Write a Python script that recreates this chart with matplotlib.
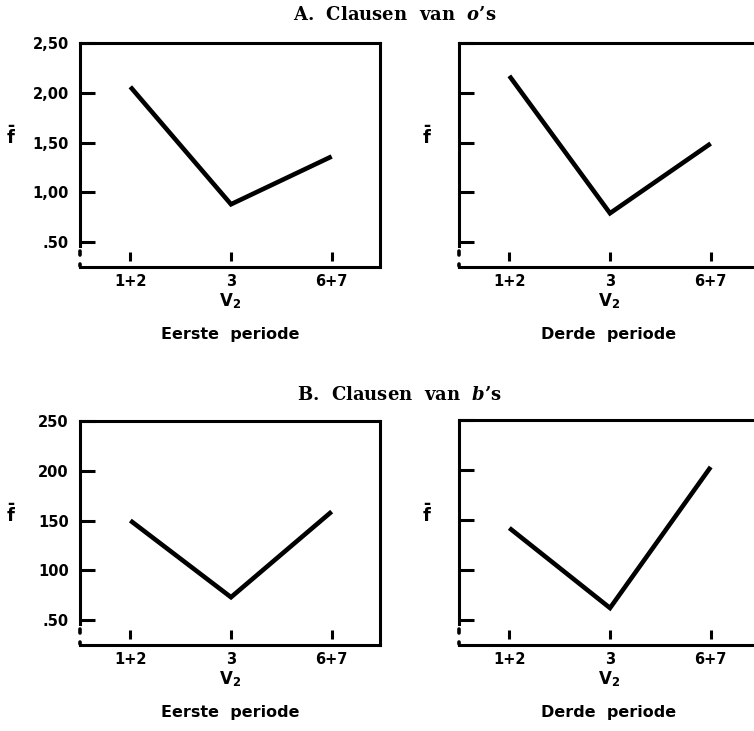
import matplotlib
matplotlib.use("Agg")
import matplotlib.pyplot as plt
import matplotlib.transforms as mtransforms

plt.rcParams['font.family'] = ['DejaVu Sans']
plt.rcParams['mathtext.fontset'] = 'custom'
plt.rcParams['mathtext.it'] = 'DejaVu Serif:italic:bold'
plt.rcParams['mathtext.bf'] = 'DejaVu Sans:bold'
plt.rcParams['mathtext.rm'] = 'DejaVu Sans:bold'

# ---- data ----
categories = ["1+2", "3", "6+7"]
a_eerste = [2.06, 0.88, 1.36]
a_derde = [2.17, 0.79, 1.49]
b_eerste = [1.50, 0.73, 1.59]
b_derde = [1.42, 0.62, 2.03]
yticks = [0.5, 1.0, 1.5, 2.0, 2.5]
a_ylabels = [".50", "1,00", "1,50", "2,00", "2,50"]
b_ylabels = [".50", "100", "150", "200", "250"]
title_a = r"A.  Clausen  van  $o$’s"
title_b = r"B.  Clausen  van  $b$’s"
period_left = "Eerste  periode"
period_right = "Derde  periode"

W, H = 754, 731
fig = plt.figure(figsize=(W / 100, H / 100), dpi=100)


def px_axes(x0, x1, top, bottom):
    return fig.add_axes([x0 / W, (H - bottom) / H, (x1 - x0) / W, (bottom - top) / H])


def panel(ax, values, ylabels, period, ylabel_offset):
    xs = list(range(len(categories)))
    ax.plot(xs, values, color='black', lw=3.3, solid_capstyle='butt', solid_joinstyle='miter')
    ax.set_xlim(-0.5, 2.48)
    ax.set_ylim(0.25, 2.5)
    for s in ax.spines.values():
        s.set_linewidth(2.2)
    ax.spines['left'].set_bounds(0.46, 2.5)
    # broken part of the left spine
    tr = mtransforms.blended_transform_factory(ax.transAxes, ax.transData)
    ax.plot([0, 0], [0.37, 0.41], color='black', lw=2.6, transform=tr, clip_on=False,
            solid_capstyle='round')
    ax.plot([0, 0], [0.26, 0.28], color='black', lw=2.6, transform=tr, clip_on=False,
            solid_capstyle='round')
    # x tick marks (detached from the axis)
    trx = mtransforms.blended_transform_factory(ax.transData, ax.transAxes)
    ax.vlines(xs, 0.025, 0.068, color='black', lw=2.2, transform=trx)
    ax.set_xticks(xs)
    ax.set_xticklabels(categories, fontsize=10.5, fontweight='bold')
    ax.tick_params(axis='x', length=0, pad=5)
    ax.set_yticks(yticks)
    if ylabels is not None:
        ax.set_yticklabels(ylabels, fontsize=10.5, fontweight='bold')
    else:
        ax.set_yticklabels([])
    ax.tick_params(axis='y', direction='in', length=11, width=2.2, pad=8)
    ax.set_xlabel(r"$\mathbf{V}_\mathbf{2}$", fontsize=12, labelpad=2)
    ax.text(0.5, -0.30, period, transform=ax.transAxes, ha='center', va='center',
            fontsize=11.5, fontweight='bold')
    ax.text(ylabel_offset, 0.58, r"$\bar{\mathbf{f}}$", transform=ax.transAxes,
            ha='center', va='center', fontsize=13)


ax1 = px_axes(80, 380, 43, 267)
ax2 = px_axes(459, 759, 43, 267)
ax3 = px_axes(80, 380, 421, 645)
ax4 = px_axes(459, 759, 420, 645)

panel(ax1, a_eerste, a_ylabels, period_left, -0.23)
panel(ax2, a_derde, None, period_right, -0.105)
panel(ax3, b_eerste, b_ylabels, period_left, -0.23)
panel(ax4, b_derde, None, period_right, -0.105)

fig.text(395 / W, 1 - 15 / H, title_a, ha='center', va='center', fontsize=13,
         fontweight='bold', family='DejaVu Serif')
fig.text(400 / W, 1 - 395 / H, title_b, ha='center', va='center', fontsize=13,
         fontweight='bold', family='DejaVu Serif')

fig.savefig("out.png", dpi=100)
